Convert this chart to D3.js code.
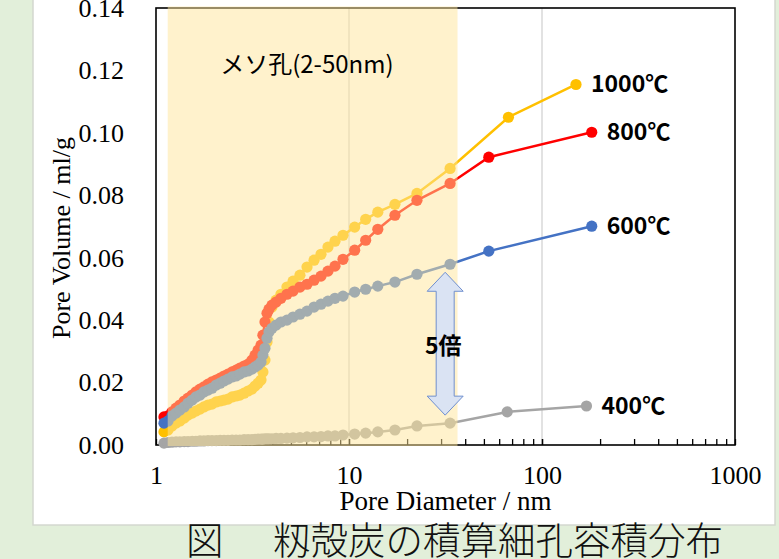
<!DOCTYPE html>
<html>
<head>
<meta charset="utf-8">
<script src="https://cdn.jsdelivr.net/npm/d3@7"></script>
<style>
  body { margin: 0; background: #e2efda; }
  svg { display: block; }
</style>
</head>
<body>
<div id="chart-area"></div>
<script>
// pore diameters (nm) shared by the dense BJH points
var diam = [1.10,1.154,1.21,1.27,1.33,1.40,1.465,1.54,1.61,1.69,1.77,1.86,1.95,2.05,2.15,2.25,2.36,2.48,2.60,2.72,
  2.86,3.00,3.14,3.26,3.38,3.50,3.58,3.67,3.76,3.85,3.99,4.19,4.44,4.77,5.13,5.57,6.06,6.59,7.16,7.78,
  8.46,9.31,10.7,12.2,14.1,17.3,22.5,33.4];

var vol1000 = [0.0042,0.0048,0.0061,0.0070,0.0077,0.0086,0.0096,0.0102,0.0109,0.0115,
  0.0122,0.0128,0.0131,0.0138,0.0141,0.0144,0.0147,0.0154,0.0157,0.0160,
  0.0166,0.0173,0.0179,0.0189,0.0198,0.0208,0.0234,0.0272,0.0330,0.0394,
  0.0442,0.0464,0.0483,0.0506,0.0525,0.0544,0.0570,0.0592,0.0611,0.0634,
  0.0653,0.0672,0.0698,0.0723,0.0746,0.0771,0.0806,0.0886];
var vol800 = [0.0090,0.0093,0.0106,0.0118,0.0128,0.0141,0.0150,0.0160,0.0170,0.0179,
  0.0186,0.0195,0.0202,0.0208,0.0214,0.0221,0.0227,0.0234,0.0240,0.0246,
  0.0253,0.0259,0.0272,0.0288,0.0304,0.0320,0.0352,0.0394,0.0422,0.0435,
  0.0448,0.0458,0.0470,0.0483,0.0493,0.0506,0.0515,0.0528,0.0541,0.0557,
  0.0573,0.0595,0.0624,0.0656,0.0691,0.0736,0.0784,0.0838];
var vol600 = [0.0070,0.0077,0.0093,0.0102,0.0112,0.0122,0.0134,0.0144,0.0154,0.0160,
  0.0170,0.0176,0.0182,0.0192,0.0198,0.0205,0.0211,0.0218,0.0221,0.0227,
  0.0234,0.0237,0.0243,0.0250,0.0256,0.0266,0.0288,0.0310,0.0342,0.0362,
  0.0374,0.0384,0.0394,0.0400,0.0410,0.0419,0.0429,0.0442,0.0451,0.0461,
  0.0470,0.0477,0.0490,0.0499,0.0509,0.0522,0.0547,0.0579];
var vol400 = [0.0006,0.0008,0.0009,0.0010,0.0010,0.0011,0.0011,0.0012,0.0012,0.0013,
  0.0013,0.0014,0.0014,0.0014,0.0015,0.0015,0.0015,0.0016,0.0016,0.0016,
  0.0017,0.0017,0.0017,0.0018,0.0019,0.0019,0.0019,0.0020,0.0020,0.0020,
  0.0020,0.0021,0.0021,0.0022,0.0023,0.0024,0.0026,0.0026,0.0027,0.0029,
  0.0029,0.0032,0.0035,0.0038,0.0042,0.0048,0.0061,0.0070];

// macropore points measured separately
var tailDiam1000 = [67, 150],  tailVol1000 = [0.105, 0.1155];
var tailDiam800  = [53, 181],  tailVol800  = [0.0922, 0.1002];
var tailDiam600  = [53, 181],  tailVol600  = [0.0621, 0.0701];
var tailDiam400  = [66, 170],  tailVol400  = [0.0106, 0.0125];

var seriesNames = ["1000℃", "800℃", "600℃", "400℃"];
var seriesColors = ["#ffc000", "#ff0000", "#4472c4", "#a5a5a5"];

var yTicks = [0, 0.02, 0.04, 0.06, 0.08, 0.10, 0.12, 0.14];
var xTicks = [1, 10, 100, 1000];
var mesoRange = [1.15, 36.5];   // shaded band
var ratioAt = 31.5;              // where the "5倍" arrow sits

var W = 779, H = 559;
var margin = { top: 8, left: 156, right: 44, bottom: 114 };
var width = W - margin.left - margin.right;
var height = H - margin.top - margin.bottom;

var svg = d3.select("#chart-area").append("svg")
  .attr("width", W).attr("height", H);

// white slide panel
svg.append("rect")
  .attr("x", 33).attr("y", -2).attr("width", 742).attr("height", 527)
  .attr("fill", "#fff").attr("stroke", "#d4d8d0").attr("stroke-width", 1.5);

var g = svg.append("g")
  .attr("transform", "translate(" + margin.left + "," + margin.top + ")");

var x = d3.scaleLog().domain([1, 1000]).range([0, width]);
var y = d3.scaleLinear().domain([0, 0.14]).range([height, 0]);

// vertical gridlines
g.selectAll(".grid").data([10, 100]).enter().append("line")
  .attr("x1", d => x(d)).attr("x2", d => x(d))
  .attr("y1", 0).attr("y2", height)
  .attr("stroke", "#d9d9d9").attr("stroke-width", 1.5);

// minor ticks inside the bottom axis
var minor = [];
[1, 10, 100].forEach(function(b) {
  for (var k = 1; k <= 10; k++) minor.push(b * k);
});
g.append("g")
  .attr("transform", "translate(0," + height + ")")
  .call(d3.axisBottom(x).tickValues(minor).tickSize(-6).tickFormat(""))
  .call(a => a.select(".domain").remove())
  .selectAll("line").attr("stroke", "#000").attr("stroke-width", 1.3);

// frame
g.append("rect")
  .attr("width", width).attr("height", height)
  .attr("fill", "none").attr("stroke", "#000").attr("stroke-width", 1.6);

// tick labels
var serif = "'Liberation Serif', 'Times New Roman', serif";
var xAxis = g.append("g")
  .attr("transform", "translate(0," + height + ")")
  .call(d3.axisBottom(x).tickValues(xTicks).tickSize(0).tickPadding(21).tickFormat(d3.format("d")));
xAxis.select(".domain").remove();
xAxis.selectAll("text").attr("font-family", serif).attr("font-size", 26).attr("fill", "#000");

var yAxis = g.append("g")
  .call(d3.axisLeft(y).tickValues(yTicks).tickSize(0).tickPadding(32).tickFormat(d3.format(".2f")));
yAxis.select(".domain").remove();
yAxis.selectAll("text").attr("font-family", serif).attr("font-size", 26).attr("fill", "#000");

g.append("text")
  .attr("x", width / 2).attr("y", height + 65)
  .attr("text-anchor", "middle")
  .attr("font-family", serif).attr("font-size", 27)
  .text("Pore Diameter / nm");

svg.append("text")
  .attr("transform", "translate(70,238) rotate(-90)")
  .attr("text-anchor", "middle")
  .attr("font-family", serif).attr("font-size", 26)
  .text("Pore Volume / ml/g");

// series
var series = [
  { d: diam.concat(tailDiam1000), v: vol1000.concat(tailVol1000) },
  { d: diam.concat(tailDiam800),  v: vol800.concat(tailVol800) },
  { d: diam.concat(tailDiam600),  v: vol600.concat(tailVol600) },
  { d: diam.concat(tailDiam400),  v: vol400.concat(tailVol400) }
];

var line = d3.line().x(p => x(p[0])).y(p => y(p[1]));

series.forEach(function(s, i) {
  var pts = s.d.map((d, j) => [d, s.v[j]]);
  var sg = g.append("g");
  sg.append("path")
    .attr("d", line(pts))
    .attr("fill", "none")
    .attr("stroke", seriesColors[i])
    .attr("stroke-width", 2.5);
  sg.selectAll("circle").data(pts).enter().append("circle")
    .attr("cx", p => x(p[0])).attr("cy", p => y(p[1]))
    .attr("r", 5.6)
    .attr("fill", seriesColors[i]);
  s.last = pts[pts.length - 1];
});

// mesopore shading over everything
g.append("rect")
  .attr("x", x(mesoRange[0])).attr("y", -1.5)
  .attr("width", x(mesoRange[1]) - x(mesoRange[0]))
  .attr("height", height + 2.5)
  .attr("fill", "#ffe699").attr("opacity", 0.5);

g.append("text")
  .attr("x", x(2.15)).attr("y", 65)
  .attr("font-family", "'Noto Sans CJK JP', sans-serif").attr("font-size", 24)
  .text("メソ孔(2-50nm)");

// series labels
series.forEach(function(s, i) {
  g.append("text")
    .attr("x", x(s.last[0]) + 15).attr("y", y(s.last[1]) + 8)
    .attr("font-family", "'Noto Sans CJK JP', sans-serif")
    .attr("font-weight", "bold").attr("font-size", 23)
    .text(seriesNames[i]);
});

// double arrow between 600 and 400
var ax = x(ratioAt);
var arrTop = y(vol600[vol600.length - 1]) + 8;
var arrBot = y(vol400[vol400.length - 1]) - 8;
var hw = 18, sw = 9, hh = 19;
var arrow = [
  [ax, arrTop], [ax + hw, arrTop + hh], [ax + sw, arrTop + hh], [ax + sw, arrBot - hh], [ax + hw, arrBot - hh],
  [ax, arrBot], [ax - hw, arrBot - hh], [ax - sw, arrBot - hh], [ax - sw, arrTop + hh], [ax - hw, arrTop + hh]
];
g.append("path")
  .attr("d", "M" + arrow.map(p => p.join(",")).join("L") + "Z")
  .attr("fill", "#dae3f3").attr("stroke", "#6f8fcf").attr("stroke-width", 1);

g.append("text")
  .attr("x", ax - 2).attr("y", (arrTop + arrBot) / 2 + 10)
  .attr("text-anchor", "middle")
  .attr("font-family", "'Noto Sans CJK JP', sans-serif")
  .attr("font-weight", "bold").attr("font-size", 23)
  .text("5倍");

// caption
svg.append("text")
  .attr("x", 186).attr("y", 554)
  .attr("font-family", "'Noto Sans CJK JP', sans-serif")
  .attr("font-weight", 300).attr("font-size", 37.5)
  .attr("fill", "#111")
  .text("図");
svg.append("text")
  .attr("x", 273).attr("y", 554)
  .attr("font-family", "'Noto Sans CJK JP', sans-serif")
  .attr("font-weight", 300).attr("font-size", 37.5)
  .attr("fill", "#111")
  .text("籾殻炭の積算細孔容積分布");
</script>
</body>
</html>
